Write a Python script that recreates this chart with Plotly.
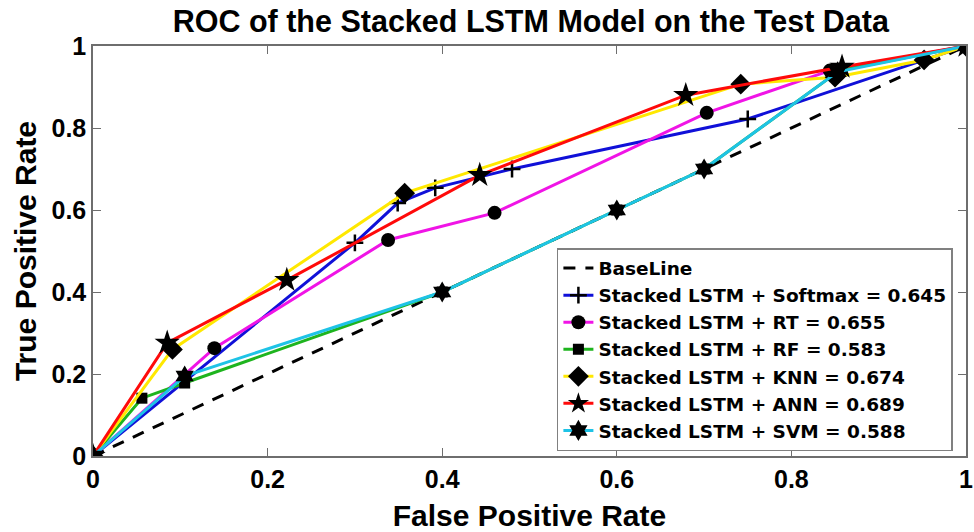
import plotly.graph_objects as go

# ---- data ----
base_fpr = [0, 1]
base_tpr = [0, 1]

softmax_fpr = [0, 0.30, 0.349, 0.392, 0.48, 0.75, 1]
softmax_tpr = [0, 0.52, 0.617, 0.654, 0.70, 0.822, 1]

rt_fpr = [0, 0.139, 0.338, 0.46, 0.703, 0.844, 1]
rt_tpr = [0, 0.263, 0.527, 0.593, 0.837, 0.94, 1]

rf_fpr = [0, 0.056, 0.105, 0.4, 0.6, 0.7, 0.855, 1]
rf_tpr = [0, 0.141, 0.178, 0.4, 0.6, 0.7, 0.94, 1]

knn_fpr = [0, 0.091, 0.357, 0.742, 0.85, 0.952, 1]
knn_tpr = [0, 0.26, 0.641, 0.907, 0.924, 0.966, 1]

ann_fpr = [0, 0.085, 0.222, 0.443, 0.679, 0.858, 1]
ann_tpr = [0, 0.276, 0.429, 0.685, 0.88, 0.949, 1]

svm_fpr = [0, 0.105, 0.4, 0.6, 0.7, 0.853, 1]
svm_tpr = [0, 0.195, 0.4, 0.6, 0.7, 0.937, 1]

names = [
    "Stacked LSTM + Softmax = 0.645",
    "Stacked LSTM + RT = 0.655",
    "Stacked LSTM + RF = 0.583",
    "Stacked LSTM + KNN = 0.674",
    "Stacked LSTM + ANN = 0.689",
    "Stacked LSTM + SVM = 0.588",
]
tick_vals = [0, 0.2, 0.4, 0.6, 0.8, 1]
tick_text = ["0", "0.2", "0.4", "0.6", "0.8", "1"]

FONT = "Liberation Sans, Arial, sans-serif"

fig = go.Figure()
fig.add_trace(go.Scatter(x=base_fpr, y=base_tpr, mode="lines", name="BaseLine",
                         line=dict(color="black", width=3, dash="12px,10px")))

specs = [
    (softmax_fpr, softmax_tpr, names[0], "#1010D8", dict(symbol="cross-thin", size=12, color="black", line=dict(color="black", width=2.5))),
    (rt_fpr, rt_tpr, names[1], "#F014E6", dict(symbol="circle", size=14, color="black")),
    (rf_fpr, rf_tpr, names[2], "#1EB41E", dict(symbol="square", size=11, color="black")),
    (knn_fpr, knn_tpr, names[3], "#FFE800", dict(symbol="diamond", size=16, color="black")),
    (ann_fpr, ann_tpr, names[4], "#FF0A0A", dict(symbol="star", size=19, color="black")),
    (svm_fpr, svm_tpr, names[5], "#1EC3E6", dict(symbol="hexagram", size=16, color="black")),
]
for fx, ty, nm, col, mk in specs:
    fig.add_trace(go.Scatter(x=fx, y=ty, mode="lines+markers", name=nm,
                             line=dict(color=col, width=3), marker=mk))

axis_common = dict(
    range=[0, 1], showgrid=False, zeroline=False,
    showline=True, mirror="ticks", linecolor="#6e6e6e", linewidth=1.5,
    ticks="inside", ticklen=8, tickcolor="#6e6e6e", tickwidth=1,
    tickfont=dict(family=FONT, size=25, color="black", weight="bold"),
    tickvals=tick_vals, ticktext=tick_text, ticklabeloverflow="allow",
    automargin=False,
)

fig.update_layout(
    width=974, height=532,
    margin=dict(l=93, r=8, t=46, b=76),
    paper_bgcolor="white", plot_bgcolor="white",
    title=dict(text="ROC of the Stacked LSTM Model on the Test Data",
               x=0.545, xanchor="center", y=0.959, yanchor="middle", yref="container",
               font=dict(family=FONT, size=30.5, color="black", weight="bold")),
    xaxis=dict(**axis_common,
               title=dict(text="False Positive Rate", standoff=13,
                          font=dict(family=FONT, size=30, color="black", weight="bold"))),
    yaxis=dict(**axis_common,
               title=dict(text="True Positive Rate", standoff=6,
                          font=dict(family=FONT, size=30, color="black", weight="bold"))),
    legend=dict(x=0.985, xanchor="right", y=0.012, yanchor="bottom",
                bgcolor="white", bordercolor="#808080", borderwidth=1.5,
                font=dict(family="DejaVu Sans", size=18.5, color="black", weight="bold"),
                itemwidth=30, tracegroupgap=0),
    showlegend=True,
)

fig.write_html("out.html")
